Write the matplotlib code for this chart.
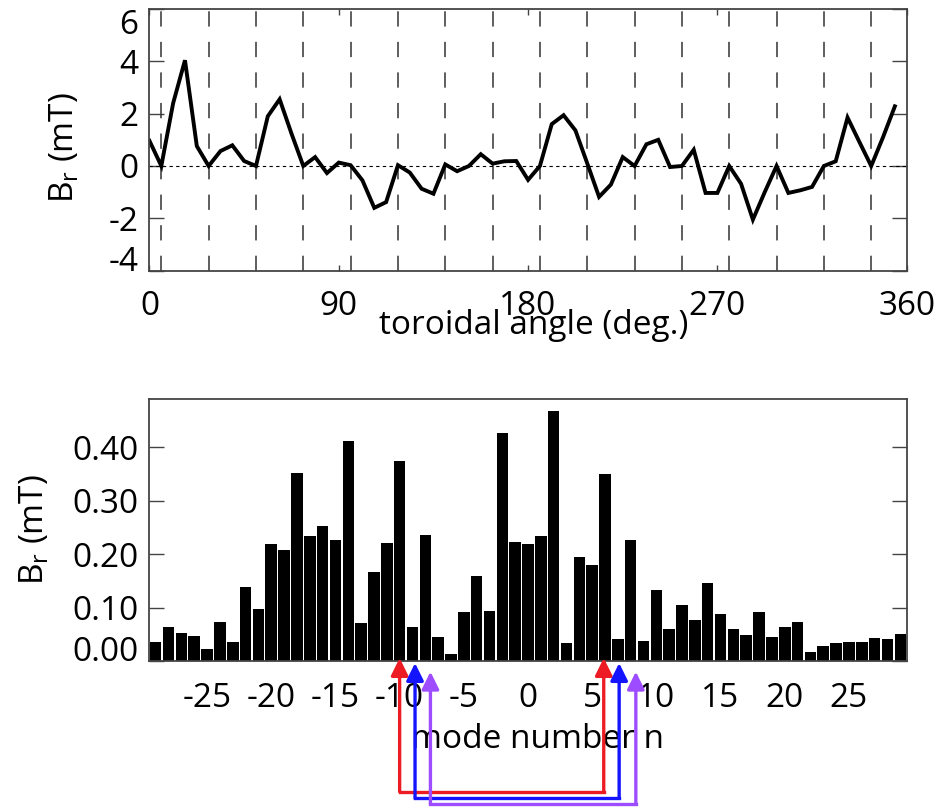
import numpy as np
import matplotlib.pyplot as plt
from matplotlib.transforms import blended_transform_factory

plt.rcParams['font.family'] = ['Open Sans', 'DejaVu Sans']
plt.rcParams['axes.unicode_minus'] = False

# toroidal scan, one sample every 5.625 deg
angle_step = 5.625
br_angle = [0.96, 0.0, 2.4, 4.04, 0.76, 0.0, 0.57, 0.79, 0.19, 0.0,
            1.9, 2.55, 1.24, 0.0, 0.34, -0.27, 0.13, 0.03, -0.55, -1.6,
            -1.38, 0.03, -0.25, -0.87, -1.06, 0.06, -0.2, 0.0, 0.45, 0.09,
            0.18, 0.19, -0.53, 0.0, 1.6, 1.94, 1.36, 0.1, -1.18, -0.71,
            0.34, 0.0, 0.83, 1.0, -0.04, 0.0, 0.62, -1.03, -1.03, 0.0,
            -0.68, -2.05, -1.0, 0.0, -1.03, -0.93, -0.8, 0.0, 0.18, 1.85,
            0.92, 0.0, 1.1, 2.28]
# probe positions (dashed lines)
probe_angles = [5.625 + 22.5 * i for i in range(16)]

# mode spectrum
mode_n = list(range(-29, 30))
br_mode = [0.036, 0.063, 0.053, 0.047, 0.023, 0.073, 0.036, 0.139, 0.098, 0.218,
           0.208, 0.351, 0.234, 0.252, 0.226, 0.411, 0.072, 0.166, 0.220, 0.374,
           0.064, 0.235, 0.044, 0.014, 0.092, 0.159, 0.094, 0.426, 0.222, 0.218,
           0.233, 0.468, 0.033, 0.194, 0.179, 0.349, 0.042, 0.226, 0.038, 0.133,
           0.059, 0.105, 0.076, 0.146, 0.088, 0.059, 0.048, 0.091, 0.044, 0.064,
           0.073, 0.016, 0.028, 0.033, 0.035, 0.036, 0.043, 0.042, 0.051]

# coupled mode pairs drawn as arrows (left n, right n)
pair_left = [-10.0, -8.8, -7.6]
pair_right = [5.9, 7.1, 8.4]
pair_colors = ['#ed1c24', '#1414ff', '#9d4dff']

FS = 24
frame = '#444444'

fig = plt.figure(figsize=(9.39, 8.07), dpi=100)

# ---- top: B_r vs toroidal angle ----
ax1 = fig.add_axes([0.1592, 0.6646, 0.8064, 0.3243])
x = np.arange(len(br_angle)) * angle_step
for a in probe_angles:
    ax1.axvline(a, color='#333333', lw=1.1, dashes=(10, 10))
ax1.axhline(0, color='black', lw=0.8, linestyle=(0, (3, 3)))
ax1.plot(x, br_angle, color='black', lw=2.8, solid_joinstyle='miter')
ax1.set_xlim(0, 360)
ax1.set_ylim(-4, 6)
ax1.set_xticks([0, 90, 180, 270, 360])
ax1.set_yticks([-4, -2, 0, 2, 4, 6])
ax1.set_yticklabels(['-4', '-2', '0', '2', '4', '6'])
ax1.tick_params(axis='y', direction='in', length=11, width=1, color=frame,
                left=True, right=True, labelsize=FS, pad=8)
ax1.tick_params(axis='x', direction='in', length=4, width=1, color=frame,
                top=True, bottom=True, labelsize=FS, pad=14)
ylabs = ax1.get_yticklabels()
ylabs[0].set_verticalalignment('baseline')
ylabs[-1].set_verticalalignment('top')
ax1.set_xlabel('toroidal angle (deg.)', fontsize=FS)
ax1.xaxis.set_label_coords(0.507, -0.148)
ax1.set_ylabel(r'B$_\mathregular{r}$ (mT)', fontsize=FS)
ax1.yaxis.set_label_coords(-0.09, 0.47)

# ---- bottom: mode spectrum ----
ax2 = fig.add_axes([0.1590, 0.1809, 0.8066, 0.3247])
ax2.bar(mode_n, br_mode, width=0.9, color='black')
ax2.set_xlim(-29.5, 29.5)
ax2.set_ylim(0, 0.49)
ax2.set_xticks([-25, -20, -15, -10, -5, 0, 5, 10, 15, 20, 25])
ax2.set_yticks([0.0, 0.1, 0.2, 0.3, 0.4])
ax2.set_yticklabels(['0.00', '0.10', '0.20', '0.30', '0.40'])
ax2.tick_params(axis='y', direction='in', length=11, width=1, color=frame,
                left=True, right=True, labelsize=FS, pad=8)
ax2.tick_params(axis='x', direction='in', length=0, labelsize=FS, pad=15)
ax2.get_yticklabels()[0].set_verticalalignment('baseline')
ax2.set_xlabel('mode number n', fontsize=FS)
ax2.xaxis.set_label_coords(0.513, -0.235)
ax2.set_ylabel(r'B$_\mathregular{r}$ (mT)', fontsize=FS)
ax2.yaxis.set_label_coords(-0.13, 0.5)

for ax in (ax1, ax2):
    for s in ax.spines.values():
        s.set_color(frame)
        s.set_linewidth(1.3)

# arrows linking mode pairs, drawn below the spectrum
trans = blended_transform_factory(ax2.transData, fig.transFigure)
y_bottom = [0.019, 0.0108, 0.0037]
y_tip = [0.1846, 0.1784, 0.1677]
for xl, xr, c, yb, yt in zip(pair_left, pair_right, pair_colors, y_bottom, y_tip):
    ax2.plot([xl, xr], [yb, yb], color=c, lw=2.4, transform=trans,
             clip_on=False, solid_capstyle='projecting')
    for xx in (xl, xr):
        ax2.annotate('', xy=(xx, yt), xycoords=trans, xytext=(xx, yb), textcoords=trans,
                     arrowprops=dict(arrowstyle='-|>,head_width=0.52,head_length=1.05',
                                     color=c, lw=2.4, shrinkA=0, shrinkB=0),
                     annotation_clip=False)

fig.savefig('out.png', dpi=100)
